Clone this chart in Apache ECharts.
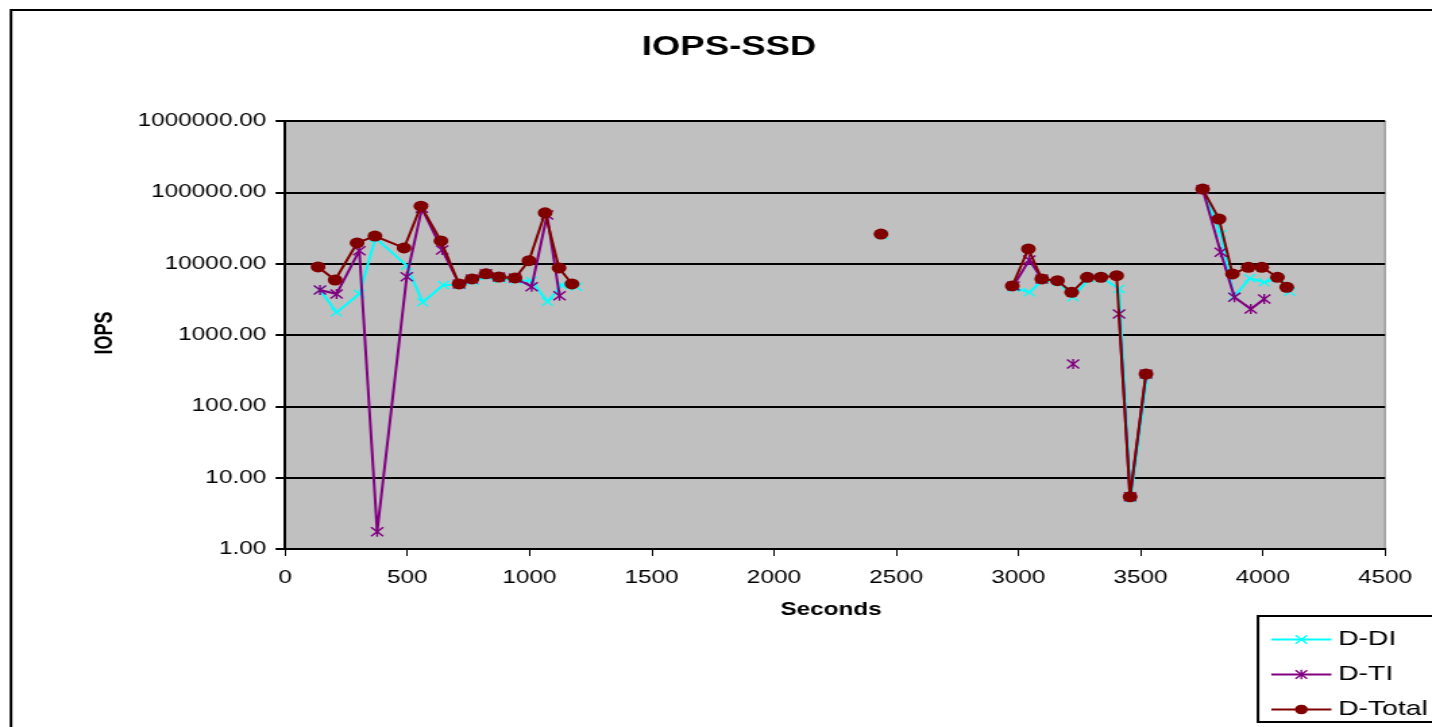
<!DOCTYPE html>
<html>
<head>
<meta charset="utf-8">
<title>IOPS-SSD</title>
<script src="https://cdn.jsdelivr.net/npm/echarts@6/dist/echarts.min.js"></script>
<style>
    html, body { margin: 0; padding: 0; background: #fff; overflow: hidden; }
    #wrap { width: 1432px; height: 727px; overflow: hidden; }
    /* the original picture is stretched sideways, so draw narrow and scale up */
    #chart { width: 1061px; height: 727px; transform-origin: 0 0; transform: scaleX(1.34967); }
</style>
</head>
<body>
<div id="wrap"><div id="chart"></div></div>
<script>
// seconds / IOPS per series, null = gap in the line
var diSeconds = [143, 211, 304, 370, 498, 563, 648, 716, 770, 826, 880, 946, 1009, 1074, 1132, 1193, 1800, 2445, 2700,
    2980, 3045, 3100, 3165, 3224, 3290, 3345, 3412, 3460, 3527, 3640, 3754, 3828, 3882, 3947, 4006, 4065, 4111];
var diValues = [4280, 2080, 3760, 23000, 9370, 2880, 5020, 5020, 5700, 6700, 6100, 5900, 5720, 2930, 5020, 4750, null, 25000, null,
    4600, 3970, 5900, 5500, 3390, 6200, 6300, 4420, 5.2, 275, null, 108000, 26000, 3440, 6240, 5480, 6240, 4050];

var tiSeconds = [143, 211, 304, 377, 498, 560, 643, 712, 765, 822, 875, 941, 1009, 1072, 1123, 1800,
    2980, 3045, 3096, 3160, 3224, 3300, 3412, 3457, 3522, 3640, 3754, 3828, 3884, 3951, 4006];
var tiValues = [4280, 3760, 15200, 1.75, 6580, 59700, 15600, 5200, 6100, 7200, 6500, 6300, 4750, 48100, 3560, null,
    4870, 11300, 6100, null, 392, null, 1970, 5.4, 284, null, 110000, 14400, 3380, 2320, 3200];

var totalSeconds = [135, 205, 295, 368, 487, 556, 638, 712, 765, 822, 875, 941, 998, 1064, 1121, 1174, 1800, 2438, 2700,
    2975, 3041, 3096, 3160, 3218, 3282, 3338, 3402, 3457, 3522, 3640, 3754, 3821, 3876, 3941, 3996, 4060, 4098];
var totalValues = [9000, 5900, 19500, 24400, 16600, 64000, 20800, 5200, 6100, 7200, 6500, 6300, 11000, 51600, 8700, 5200, null, 26000, null,
    4870, 16070, 6100, 5770, 3970, 6440, 6450, 6790, 5.4, 284, null, 111000, 42300, 7170, 8900, 8900, 6440, 4670];

var seriesNames = ['D-DI', 'D-TI', 'D-Total'];
var xTicks = [0, 500, 1000, 1500, 2000, 2500, 3000, 3500, 4000, 4500];

var SX = 1432 / 1061;   // horizontal stretch
var sx = function (px) { return px / SX; };

var toPairs = function (secs, vals) {
    var out = [];
    for (var i = 0; i < secs.length; i++) {
        out.push([secs[i], vals[i] === null ? '-' : vals[i]]);
    }
    return out;
};

var crossPath = 'path://M0,1L1,0L5,4L9,0L10,1L6,5L10,9L9,10L5,6L1,10L0,9L4,5Z';
var starPath = 'path://M0,1L1,0L5,4L9,0L10,1L6,5L10,9L9,10L5,6L1,10L0,9L4,5ZM4.3,0L5.7,0L5.7,10L4.3,10Z';

var font = '"Liberation Sans", Arial, sans-serif';

var chart = echarts.init(document.getElementById('chart'));

var option = {
    animation: false,
    backgroundColor: '#fff',
    textStyle: { fontFamily: font },
    graphic: [
        {
            type: 'rect', z: -10,
            shape: { x: sx(11), y: 10, width: 1100, height: 760 },
            style: { fill: 'none', stroke: '#000', lineWidth: 2 }
        },
        {
            type: 'text', x: sx(729), y: 48,
            style: { text: 'IOPS-SSD', font: 'bold 27px ' + font, fill: '#000', align: 'center', verticalAlign: 'middle' }
        },
        {
            type: 'text', x: sx(105), y: 333, rotation: Math.PI / 2,
            style: { text: 'IOPS', font: 'bold 18px ' + font, fill: '#000', align: 'center', verticalAlign: 'middle' }
        },
        {
            type: 'text', x: sx(831), y: 610,
            style: { text: 'Seconds', font: 'bold 18px ' + font, fill: '#000', align: 'center', verticalAlign: 'middle' }
        },
        {
            type: 'rect',
            shape: { x: sx(1258), y: 616, width: 200, height: 106 },
            style: { fill: '#fff', stroke: '#000', lineWidth: 2 }
        }
    ],
    legend: {
        orient: 'vertical',
        left: sx(1270) - 5,
        top: 624,
        itemWidth: sx(60),
        itemHeight: 12,
        itemGap: 14,
        z: 10,
        textStyle: { fontSize: 21, color: '#000', fontFamily: font },
        data: seriesNames
    },
    grid: {
        left: sx(285),
        right: sx(1432 - 1385),
        top: 121,
        bottom: 727 - 549,
        show: true,
        backgroundColor: '#C0C0C0',
        borderColor: '#808080',
        borderWidth: 1
    },
    xAxis: {
        type: 'value',
        min: xTicks[0],
        max: xTicks[xTicks.length - 1],
        interval: 500,
        axisLine: { lineStyle: { color: '#000', width: 2 } },
        axisTick: { show: true, inside: false, length: 7, lineStyle: { color: '#000', width: 1 } },
        axisLabel: {
            fontSize: 18, color: '#000', margin: 20, fontFamily: font,
            formatter: function (v) { return String(v); }
        },
        splitLine: { show: false }
    },
    yAxis: {
        type: 'log',
        logBase: 10,
        min: 1,
        max: 1000000,
        axisLine: { show: true, lineStyle: { color: '#000', width: 2 } },
        axisTick: { show: true, inside: false, length: 7, lineStyle: { color: '#000', width: 2 } },
        axisLabel: {
            fontSize: 18, color: '#000', margin: 14, fontFamily: font,
            formatter: function (v) { return Number(v).toFixed(2); }
        },
        splitLine: { show: true, lineStyle: { color: '#000', width: 2 } }
    },
    series: [
        {
            name: seriesNames[0],
            type: 'line',
            data: toPairs(diSeconds, diValues),
            symbol: crossPath,
            symbolSize: 9,
            color: '#00FFFF',
            lineStyle: { width: 2, color: '#00FFFF' },
            itemStyle: { color: '#00FFFF' },
            z: 2
        },
        {
            name: seriesNames[1],
            type: 'line',
            data: toPairs(tiSeconds, tiValues),
            symbol: starPath,
            symbolSize: 10,
            color: '#800080',
            lineStyle: { width: 2, color: '#800080' },
            itemStyle: { color: '#800080' },
            z: 3
        },
        {
            name: seriesNames[2],
            type: 'line',
            data: toPairs(totalSeconds, totalValues),
            symbol: 'circle',
            symbolSize: 11,
            color: '#800000',
            lineStyle: { width: 2, color: '#800000' },
            itemStyle: { color: '#800000' },
            z: 4
        }
    ]
};

chart.setOption(option);
</script>
</body>
</html>
